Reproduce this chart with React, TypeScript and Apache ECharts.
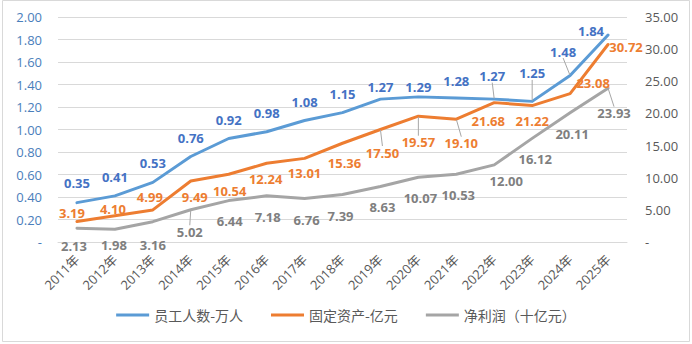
import React, { useEffect, useRef } from "react";
import * as echarts from "echarts";

const years = ["2011年","2012年","2013年","2014年","2015年","2016年","2017年","2018年","2019年","2020年","2021年","2022年","2023年","2024年","2025年"];
const staff = [0.35,0.41,0.53,0.76,0.92,0.98,1.08,1.15,1.27,1.29,1.28,1.27,1.25,1.48,1.84];
const assets = [3.19,4.10,4.99,9.49,10.54,12.24,13.01,15.36,17.50,19.57,19.10,21.68,21.22,23.08,30.72];
const profit = [2.13,1.98,3.16,5.02,6.44,7.18,6.76,7.39,8.63,10.07,10.53,12.00,16.12,20.11,23.93];
const seriesNames = ["员工人数-万人","固定资产-亿元","净利润（十亿元）"];

// label placement (layout only)
const staffOff = [[0,-20],[0,-19],[0,-19],[0,-19],[0,-19],[0,-19],[0,-19],[0,-19],[0,-12],[0,-10],[0,-17],[-2,-23],[0,-28],[-7,-24],[-17,-4]];
const assetsOff = [[-5,-8],[-2,-7],[-3,-13],[4,16],[1,17],[-1,16],[0,15],[2,20],[2,23],[0,26],[5,24],[-6,18],[0,15],[23,-11],[18,2]];
const profitOff = [[-3,18],[-1,16],[0,23],[-1,22],[1,20],[1,21],[2,21],[-2,22],[2,20],[2,21],[2,21],[12,16],[3,21],[2,21],[6,25]];
const staffGuides = [11, 12, 13];
const assetsGuides = [8, 9, 10];
const profitGuides = [3, 14];

const FONT = "'Open Sans', 'Noto Sans CJK SC', sans-serif";

export default function App() {
  const ref = useRef<HTMLDivElement>(null);
  useEffect(() => {
    document.body.style.margin = "0";
    const chart = echarts.init(ref.current!, null, { renderer: "svg" });
    const mkSeries = (name: string, data: number[], offs: number[][], guides: number[], color: string, labelColor: string, yIdx: number) => ({
      name,
      type: "line",
      yAxisIndex: yIdx,
      data: data.map((v) => v),
      symbol: "circle",
      symbolSize: 1,
      showSymbol: true,
      lineStyle: { color, width: 3, cap: "round", join: "round" },
      itemStyle: { color },
      label: {
        show: true,
        position: "inside",
        color: labelColor,
        fontFamily: FONT,
        fontWeight: "bold",
        fontSize: 13,
        align: "center",
        verticalAlign: "middle",
        formatter: (p: any) => Number(p.value).toFixed(2),
      },
      labelLayout: (p: any) => ({ dx: offs[p.dataIndex][0], dy: offs[p.dataIndex][1] }),
      labelLine: { show: false },
      emphasis: { disabled: true },
      _guides: guides,
    });
    const withGuides = (s: any) => {
      const guides: number[] = s._guides;
      delete s._guides;
      s.data = s.data.map((v: number, i: number) =>
        guides.includes(i)
          ? { value: v, labelLine: { show: true, length2: 0, lineStyle: { color: "#A6A6A6", width: 1 } } }
          : { value: v }
      );
      return s;
    };
    chart.setOption({
      animation: false,
      backgroundColor: "#ffffff",
      textStyle: { fontFamily: FONT },
      graphic: [
        { type: "rect", shape: { x: 2.5, y: 0.5, width: 687, height: 341 }, style: { fill: "none", stroke: "#D9D9D9", lineWidth: 1 }, silent: true },
      ],
      grid: { left: 58, right: 65, top: 17, bottom: 102 },
      legend: {
        bottom: 17,
        left: "center",
        itemWidth: 33,
        itemHeight: 3,
        itemGap: 28,
        icon: "rect",
        textStyle: { color: "#595959", fontSize: 14, fontFamily: "'Noto Sans CJK SC', sans-serif" },
        data: seriesNames,
      },
      xAxis: {
        type: "category",
        data: years,
        boundaryGap: true,
        axisLine: { lineStyle: { color: "#D9D9D9" } },
        axisTick: { show: false },
        axisLabel: { rotate: 45, margin: 15, color: "#595959", fontSize: 13, fontFamily: FONT, interval: 0 },
      },
      yAxis: [
        {
          type: "value",
          min: 0,
          max: 2,
          interval: 0.2,
          axisLine: { show: false },
          axisTick: { show: false },
          splitLine: { lineStyle: { color: "#D9D9D9" } },
          axisLabel: { margin: 16, color: "#4A7EBB", fontSize: 13, fontFamily: FONT, formatter: (v: number) => (v === 0 ? "-" : v.toFixed(2)) },
        },
        {
          type: "value",
          min: 0,
          max: 35,
          interval: 5,
          position: "right",
          axisLine: { show: false },
          axisTick: { show: false },
          splitLine: { show: false },
          axisLabel: { margin: 18, color: "#595959", fontSize: 13, fontFamily: FONT, formatter: (v: number) => (v === 0 ? "-" : v.toFixed(2)) },
        },
      ],
      series: [
        withGuides(mkSeries(seriesNames[0], staff, staffOff, staffGuides, "#5B9BD5", "#4472C4", 0)),
        withGuides(mkSeries(seriesNames[1], assets, assetsOff, assetsGuides, "#ED7D31", "#ED7D31", 1)),
        withGuides(mkSeries(seriesNames[2], profit, profitOff, profitGuides, "#A5A5A5", "#7F7F7F", 1)),
      ],
    });
    return () => chart.dispose();
  }, []);
  return <div ref={ref} style={{ width: 692, height: 344 }} />;
}
